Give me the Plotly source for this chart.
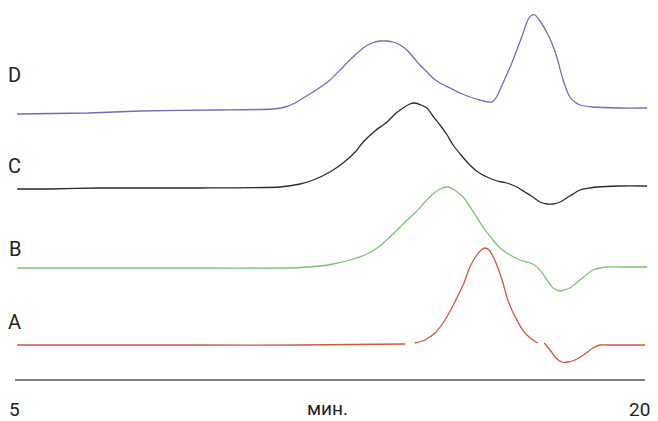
import plotly.graph_objects as go

# Retention time (min) and detector response (arbitrary units, baseline-subtracted)
time_A = [5.05, 7.02, 9.40, 11.79, 14.29, None, 14.52, 14.76, 15.00, 15.19, 15.36, 15.52, 15.69,
          15.83, 15.98, 16.10, 16.19, 16.29, 16.40, 16.50, 16.62, 16.71, 16.83, 16.95, 17.07,
          17.19, 17.33, 17.45, None, 17.60, 17.74, 17.88, 18.02, 18.17, 18.33, 18.57, 18.76,
          18.93, 19.10, 20.00]
resp_A = [0, 0, 0, 0, 1, None, 2, 5, 12, 22, 34, 47, 62, 78, 89, 95, 97, 95, 87, 77, 62, 48,
          35, 25, 16, 10, 5, 2, None, 2, -5, -13, -17, -17, -15, -9, -3, 0, 0, 0]

time_B = [5.05, 7.02, 9.40, 11.31, 11.79, 12.26, 12.57, 12.98, 13.38, 13.69, 14.00, 14.29,
          14.57, 14.76, 14.95, 15.12, 15.29, 15.43, 15.67, 15.90, 16.14, 16.38, 16.55, 16.71,
          17.02, 17.33, 17.50, 17.67, 17.81, 17.98, 18.21, 18.45, 18.76, 19.10, 19.40, 20.05]
resp_B = [0, 0, 0, 0, 0.5, 2, 4, 8, 14, 22, 34, 46, 57, 66, 74, 79, 81, 79, 71, 57, 41, 28, 20,
          15, 8, 4, -2, -12, -20, -23, -20, -12, -2, 1, 1, 1]

time_C = [5.05, 5.83, 7.02, 9.40, 11.31, 11.79, 12.10, 12.50, 12.81, 13.10, 13.29, 13.57,
          13.86, 14.05, 14.24, 14.40, 14.52, 14.67, 14.81, 14.95, 15.12, 15.29, 15.43, 15.64,
          15.83, 16.02, 16.24, 16.48, 16.71, 16.95, 17.14, 17.33, 17.50, 17.67, 17.81, 17.98,
          18.21, 18.45, 18.69, 18.86, 19.40, 20.05]
resp_C = [0, 0, 1, 1, 2, 5, 9, 17, 26, 37, 47, 58, 67, 75, 81, 85, 86, 84, 81, 73, 64, 54, 44,
          33, 24, 17, 12, 8, 6, 2, -3, -8, -13, -15, -15, -13, -7, -1, 1, 2, 3, 3]

time_D = [5.05, 6.74, 7.98, 9.83, 11.14, 11.43, 11.67, 11.90, 12.21, 12.50,
          12.74, 12.90, 13.10, 13.29, 13.50, 13.69, 13.86, 14.00, 14.17, 14.33, 14.48, 14.64,
          14.81, 14.95, 15.12, 15.36, 15.60, 15.83, 16.07, 16.26, 16.36, 16.48, 16.62, 16.79,
          16.95, 17.10, 17.21, 17.31, 17.38, 17.50, 17.67, 17.79, 17.90, 18.05, 18.21, 18.33,
          18.45, 18.76, 19.40, 20.05]
resp_D = [0, 1, 3, 4, 5, 7, 11, 17, 25, 34, 44, 51, 59, 66, 71, 73, 73, 72, 69, 64,
          57, 49, 42, 36, 31, 26, 21, 17, 14, 12, 12, 18, 31, 47, 64, 81, 94, 99, 99, 93, 81,
          70, 57, 34, 17, 12, 9, 7, 6, 6]

trace_names = ["A", "B", "C", "D"]
trace_offsets = [76, 153, 232, 307]          # vertical stacking offset of each chromatogram
trace_colors = ["#d8553b", "#7cc673", "#2b2b2b", "#6b70b9"]
x_tick_labels = ["5", "мин.", "20"]
x_tick_values = [5.0, 12.5, 20.0]

times = [time_A, time_B, time_C, time_D]
resps = [resp_A, resp_B, resp_C, resp_D]

fig = go.Figure()
for name, t, r, off, col in zip(trace_names, times, resps, trace_offsets, trace_colors):
    y = [None if v is None else v + off for v in r]
    fig.add_trace(go.Scatter(x=t, y=y, mode="lines", name=name,
                             line=dict(color=col, width=1.3, shape="spline", smoothing=0.55),
                             hoverinfo="skip", showlegend=False))

# baseline (time axis line)
fig.add_shape(type="line", xref="x", yref="y", x0=x_tick_values[0], x1=x_tick_values[-1],
              y0=41, y1=41, line=dict(color="#555555", width=1.6))

label_font = dict(family="Roboto, 'Liberation Sans', sans-serif", size=20, color="#222222")
tick_font = dict(family="Roboto, 'Liberation Sans', sans-serif", size=19, color="#222222")
label_y = [99, 172, 255, 346]
for name, ly in zip(trace_names, label_y):
    fig.add_annotation(x=4.99, y=ly, text=name, showarrow=False, xanchor="center",
                       yanchor="middle", font=label_font)

tick_y = [12, 13, 12]
tick_x = [4.99, 12.45, 19.88]
for lab, tx, ty in zip(x_tick_labels, tick_x, tick_y):
    fig.add_annotation(x=tx, y=ty, text=lab, showarrow=False, xanchor="center",
                       yanchor="middle", font=tick_font)

fig.update_layout(
    width=658, height=421,
    margin=dict(l=0, r=0, t=0, b=0),
    paper_bgcolor="white", plot_bgcolor="white",
    xaxis=dict(range=[4.6429, 20.310], visible=False, fixedrange=True),
    yaxis=dict(range=[0, 421], visible=False, fixedrange=True),
)

fig.write_html("out.html")
